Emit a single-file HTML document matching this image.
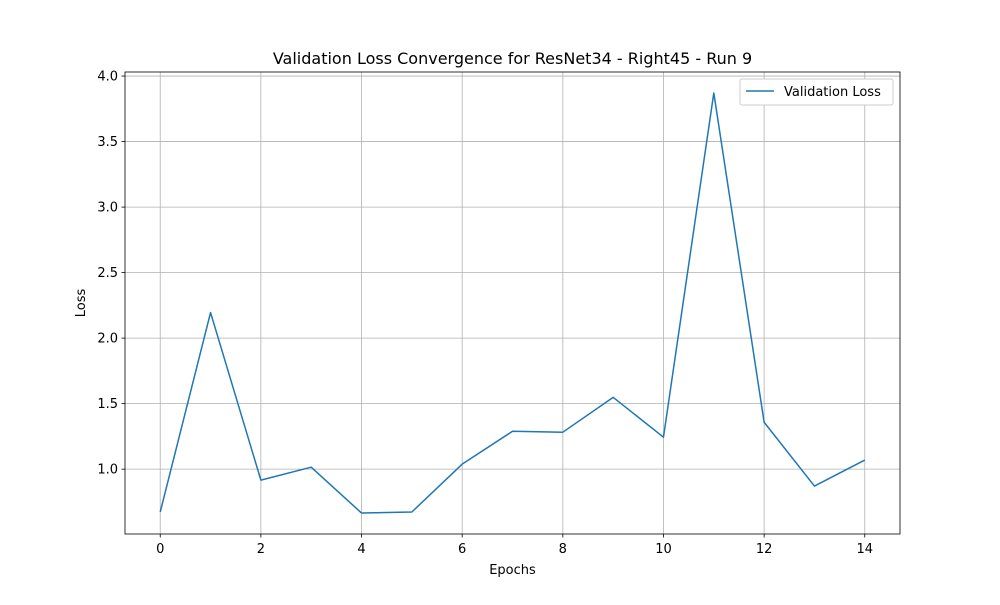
<!DOCTYPE html>
<html><head><meta charset="utf-8"><style>
body{margin:0;background:#fff;font-family:"Liberation Sans","DejaVu Sans",sans-serif;}
svg text{font-family:"DejaVu Sans","Liberation Sans",sans-serif;}
</style></head><body>
<svg id="chart" width="1000" height="600" xmlns="http://www.w3.org/2000/svg"></svg>
<script>
const epochs=[0,1,2,3,4,5,6,7,8,9,10,11,12,13,14];
const lossValues=[0.673,2.195,0.916,1.015,0.665,0.673,1.038,1.289,1.282,1.548,1.244,3.871,1.358,0.871,1.069];
const xTicks=[0,2,4,6,8,10,12,14];
const yTicks=[1.0,1.5,2.0,2.5,3.0,3.5,4.0];
const L=125,R=900,T=72,B=534;
const xMin=-0.7,xMax=14.7,yMin=0.505,yMax=4.031;
const xs=v=>L+(v-xMin)/(xMax-xMin)*(R-L);
const ys=v=>B-(v-yMin)/(yMax-yMin)*(B-T);
const svg=document.getElementById('chart');
const NS='http://www.w3.org/2000/svg';
function mk(tag,attrs,txt){const e=document.createElementNS(NS,tag);for(const k in attrs)e.setAttribute(k,attrs[k]);if(txt!==undefined)e.textContent=txt;svg.appendChild(e);return e;}
xTicks.forEach(t=>{const x=xs(t);
 const g=mk('line',{x1:x,x2:x,y1:T,y2:B,stroke:'#b0b0b0','stroke-width':0.8});
 
 mk('line',{x1:x,x2:x,y1:B,y2:B+3.5,stroke:'#000','stroke-width':0.8});
 const l=mk('text',{x:x,y:B+19,'font-size':13,'text-anchor':'middle'},String(t));
 
});
yTicks.forEach(t=>{const y=ys(t);
 const g=mk('line',{x1:L,x2:R,y1:y,y2:y,stroke:'#b0b0b0','stroke-width':0.8});
 
 mk('line',{x1:L-3.5,x2:L,y1:y,y2:y,stroke:'#000','stroke-width':0.8});
 const l=mk('text',{x:L-7,y:y+4.5,'font-size':13,'text-anchor':'end'},t.toFixed(1));
 
});
const pts=epochs.map((e,i)=>xs(e)+','+ys(lossValues[i])).join(' ');
const line=mk('polyline',{points:pts,fill:'none',stroke:'#1f77b4','stroke-width':1.5,'stroke-linejoin':'round'});

const frame=mk('rect',{x:L,y:T,width:R-L,height:B-T,fill:'none',stroke:'#000','stroke-width':0.8});

const title=mk('text',{x:(L+R)/2,y:64,'font-size':16,'text-anchor':'middle'},'Validation Loss Convergence for ResNet34 - Right45 - Run 9');

const xl=mk('text',{x:(L+R)/2,y:574,'font-size':13,'text-anchor':'middle'},'Epochs');

const yl=mk('text',{x:85,y:(T+B)/2,'font-size':13,'text-anchor':'middle',transform:'rotate(-90 85 '+((T+B)/2)+')'},'Loss');

const lg=mk('rect',{x:740,y:79,width:153,height:26,fill:'#fff',stroke:'#ccc','stroke-width':1,rx:2});

mk('line',{x1:746,x2:774,y1:91,y2:91,stroke:'#1f77b4','stroke-width':1.5});
const lt=mk('text',{x:784,y:96,'font-size':13},'Validation Loss');

</script>
</body></html>
